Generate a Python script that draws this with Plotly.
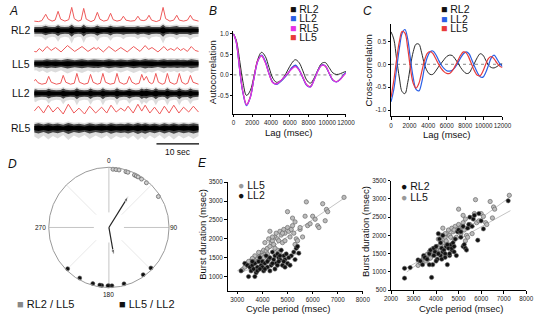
import plotly.graph_objects as go

W, H = 542, 317
FONT = "Liberation Sans, Arial, sans-serif"

# ---------------- Panel A : rectified/integrated envelopes (red) -------------
a_channels = ["RL2", "LL5", "LL2", "RL5"]
rl2_t = [0, 1.0, 1.8, 2.7, 3.3, 4.2, 4.9, 5.6, 6.2, 7.2, 8.1, 8.8, 9.4, 10.3, 11.0, 11.6,
         12.2, 13.3, 14.1, 14.8, 15.4, 16.3, 17.2, 17.9, 18.5, 19.4, 20.3, 20.9, 21.5, 22.6,
         23.6, 24.3, 24.9, 25.7, 26.3, 26.9, 27.5, 28.6, 29.5, 30.2, 30.8, 31.8, 32.7, 33.4,
         34.0, 35.0, 35.9, 36.6, 37.2, 38.5]
rl2_env = [1, 0.5, 1.5, 8, 3, 1, 2, 11, 3, 1, 2.5, 15, 3.5, 1, 2, 14, 3, 0.5, 2, 10, 3, 1, 2, 9,
           2.5, 1, 2, 6, 2, 1, 1.5, 6, 2, 1.5, 2.5, 7, 2, 0.5, 2, 15, 3.5, 1, 2, 7, 2, 1, 2, 7, 2.5, 1]
ll5_t = [0, 0.5, 1.2, 2.0, 3.0, 4.0, 5.0, 6.3, 7.8, 9.5, 11.2, 12.6, 14.0, 14.5, 15.0, 16.2,
         17.5, 19.0, 20.3, 21.8, 23.3, 24.8, 26.0, 26.8, 27.6, 29.0, 30.4, 31.2, 32.0, 32.8,
         33.5, 34.3, 35.0, 35.9, 36.8, 37.7, 38.5]
ll5_env = [2, 1.5, 5, 2, 7, 3, 6, 1.5, 8, 2, 7, 2, 6, 4, 6, 1.5, 7, 2, 6, 1.5, 7, 2, 8, 4, 6,
           1.5, 7, 3, 5, 3, 6, 3, 5, 2, 7, 3, 2]
ll2_t = [0, 0.3, 0.9, 1.8, 2.8, 3.4, 4.0, 5.2, 6.2, 6.8, 7.4, 8.5, 9.4, 10.0, 10.6, 11.7, 12.6,
         13.2, 13.8, 14.8, 15.5, 16.1, 16.7, 17.8, 18.8, 19.4, 20.0, 21.0, 21.7, 22.3, 22.9,
         23.8, 24.6, 25.2, 25.7, 26.3, 26.9, 27.5, 27.9, 28.5, 29.1, 30.0, 30.6, 31.2, 31.8,
         32.8, 33.4, 34.0, 34.6, 35.4, 36.0, 36.6, 37.2, 38.5]
ll2_env = [4, 6, 2.5, 1, 2, 9, 3, 1, 2, 10, 3, 1, 2, 12, 3, 1, 2, 11, 3, 1, 2, 12, 3, 1, 2, 12,
           3, 1, 2, 9, 3, 1, 2, 11, 5, 9, 3, 1.5, 2.5, 12, 3, 1, 2, 12, 3, 1, 2, 12, 3, 1, 2, 10, 3, 1]
rl5_t = [0, 1.0, 2.2, 3.3, 4.4, 5.5, 6.8, 8.0, 9.3, 10.5, 11.8, 13.0, 14.4, 15.8, 17.0, 18.0,
         19.2, 20.3, 21.2, 22.0, 23.2, 24.3, 25.2, 26.0, 27.1, 28.2, 29.4, 30.5, 31.6, 32.7,
         33.9, 35.0, 36.2, 37.3, 38.5]
rl5_env = [5, 10, 3, 11, 4, 9, 2, 12, 3, 8, 2, 10, 3, 9, 3, 11, 4, 8, 5, 10, 3, 12, 5, 11, 3,
           9, 2, 10, 3, 11, 3, 9, 4, 10, 4]
scale_bar_sec = 10

# ---------------- Panel B : autocorrelation ---------------------------------
b_lag = [0, 300, 700, 1000, 1400, 1800, 2200, 2600, 3000, 3400, 3800, 4200, 4600, 5000, 5400,
         5800, 6200, 6600, 7000, 7400, 7800, 8200, 8600, 9000, 9400, 9800, 10200, 10600,
         11000, 11400, 11800, 12000]
b_rl2 = [1.0, 0.85, 0.3, -0.15, -0.5, -0.38, -0.02, 0.38, 0.55, 0.45, 0.18, -0.08, -0.18,
         -0.14, -0.04, 0.12, 0.28, 0.37, 0.3, 0.1, -0.12, -0.2, -0.08, 0.12, 0.28, 0.3, 0.18,
         0.05, 0.01, 0.03, 0.07, 0.08]
b_ll2 = [1.0, 0.8, 0.05, -0.42, -0.75, -0.55, -0.08, 0.33, 0.48, 0.33, 0.03, -0.18, -0.23,
         -0.17, -0.08, 0.03, 0.17, 0.24, 0.13, -0.07, -0.25, -0.29, -0.12, 0.1, 0.24, 0.22,
         0.04, -0.13, -0.17, -0.1, 0.02, 0.06]
b_rl5 = [1.0, 0.8, 0.06, -0.4, -0.73, -0.55, -0.07, 0.34, 0.47, 0.3, 0.02, -0.19, -0.22,
         -0.15, -0.06, 0.04, 0.14, 0.2, 0.12, -0.06, -0.24, -0.3, -0.13, 0.09, 0.23, 0.22,
         0.05, -0.12, -0.17, -0.11, 0.0, 0.04]
b_ll5 = [1.0, 0.82, 0.08, -0.4, -0.72, -0.53, -0.06, 0.35, 0.46, 0.31, 0.03, -0.18, -0.22,
         -0.16, -0.07, 0.03, 0.16, 0.22, 0.12, -0.06, -0.24, -0.28, -0.11, 0.1, 0.24, 0.21,
         0.04, -0.12, -0.16, -0.1, 0.01, 0.05]

# ---------------- Panel C : cross-correlation -------------------------------
c_lag = [0, 300, 600, 900, 1200, 1500, 1800, 2100, 2400, 2700, 3000, 3300, 3600, 3900, 4200,
         4500, 4800, 5100, 5400, 5700, 6000, 6300, 6600, 6900, 7200, 7500, 7800, 8100, 8400,
         8700, 9000, 9300, 9600, 9900, 10200, 10500, 10800, 11100, 11400, 11700, 12000]
c_rl2 = [0.71, 0.55, 0.12, -0.3, -0.6, -0.64, -0.4, -0.03, 0.28, 0.44, 0.44, 0.25, 0.0, -0.15,
         -0.22, -0.22, -0.15, -0.06, 0.02, 0.1, 0.17, 0.2, 0.19, 0.12, 0.03, -0.07, -0.15,
         -0.2, -0.19, -0.09, 0.03, 0.15, 0.23, 0.2, 0.09, -0.02, -0.07, -0.08, -0.05, -0.01, 0.01]
c_ll2 = [-0.82, -0.55, -0.1, 0.35, 0.68, 0.76, 0.55, 0.1, -0.3, -0.55, -0.58, -0.4, -0.08,
         0.15, 0.27, 0.29, 0.22, 0.1, -0.01, -0.09, -0.14, -0.15, -0.13, -0.07, 0.03, 0.14,
         0.23, 0.27, 0.23, 0.1, -0.05, -0.18, -0.27, -0.28, -0.18, -0.02, 0.14, 0.2, 0.12,
         0.02, -0.05]
c_ll5 = [-0.72, -0.35, 0.1, 0.5, 0.72, 0.68, 0.35, -0.1, -0.42, -0.52, -0.42, -0.17, 0.08,
         0.24, 0.28, 0.24, 0.13, 0.01, -0.09, -0.16, -0.2, -0.2, -0.14, -0.04, 0.08, 0.2,
         0.27, 0.25, 0.14, -0.01, -0.15, -0.24, -0.25, -0.15, 0.0, 0.13, 0.17, 0.12, 0.03,
         -0.04, -0.07]
lag_ticks = list(range(0, 12001, 2000))

# ---------------- Panel D : phase (degrees) ---------------------------------
d_rl2_ll5_phase = [4, 7, 10, 17, 19, 26, 28, 30, 34, 40, 58]
d_rl2_ll5_mean = (32, 0.61)      # (angle, vector length)
d_ll5_ll2_phase = [134, 144, 165, 177, 180, 181, 187, 189, 196, 210, 225]
d_ll5_ll2_mean = (170, 0.47)
d_ticks = ["0", "90", "180", "270"]

# ---------------- Panel E : burst duration vs cycle period ------------------
e_ll5_period = [3200, 3400, 3500, 3550, 3600, 3650, 3700, 3750, 3800, 3650, 3550, 3900, 3950,
                4000, 4050, 4100, 4150, 4200, 4250, 4300, 4350, 4400, 4450, 4500, 4550, 4600,
                4650, 4700, 4750, 4800, 4850, 4900, 5000, 5000, 5050, 5100, 5150, 5200, 5250,
                5300, 5350, 5400, 5500, 5600, 5700, 5750, 5800, 5900, 6000, 6100, 6200, 6400,
                6500, 6550, 6600, 7250, 4300, 4400, 4100, 3850, 3950, 4000, 4200, 4600, 4700,
                4900, 5200, 5500, 4500, 3450, 3300, 4050, 3700, 4800, 5300, 6250, 3600, 3750]
e_ll5_burst = [1180, 1330, 1380, 1420, 1450, 1400, 1480, 1430, 1500, 1350, 1300, 1550, 1620,
               1650, 1700, 1600, 1680, 1750, 2000, 1800, 1900, 1950, 1850, 2050, 2150, 2000,
               1950, 2200, 2100, 1900, 2250, 2150, 2300, 2720, 2200, 2050, 2250, 2350, 2150,
               2450, 2000, 1950, 2250, 2050, 2600, 2980, 2350, 2400, 2600, 2520, 2350, 2930,
               2480, 2780, 2720, 3100, 2200, 2050, 1900, 1640, 1480, 1550, 1600, 1700, 1650,
               1950, 2550, 2300, 1750, 1400, 1250, 1500, 1550, 2150, 1850, 2300, 1480, 1380]
e_ll2_period = [3150, 3300, 3400, 3450, 3500, 3550, 3600, 3650, 3700, 3750, 3800, 3850, 3900,
                3950, 4000, 4050, 4100, 4150, 4200, 4250, 4300, 4350, 4400, 4450, 4500, 4550,
                4600, 4650, 4700, 4750, 4800, 4850, 4900, 4950, 5000, 5100, 5150, 5250, 5350,
                5400, 5450, 4500, 4300, 3800, 4000, 4600, 5050, 4200, 3600, 4400, 4700, 4900,
                5300, 3700, 4100, 3900, 4650, 4850]
e_ll2_burst = [1150, 1350, 1300, 1000, 1250, 1150, 1300, 1200, 1350, 1100, 1250, 1400, 1500,
               1300, 1400, 1150, 1350, 1550, 1250, 1450, 1500, 1300, 1650, 1450, 1550, 1350,
               1600, 1500, 1450, 1700, 1300, 1550, 1450, 1600, 1350, 1300, 1550, 1650, 1750,
               1800, 1620, 1200, 1150, 1150, 1250, 1300, 1500, 1400, 1400, 1350, 1550, 1250,
               1450, 1000, 1200, 1200, 1400, 1400]
e_rl2_period = [2600, 2600, 2850, 3200, 3300, 3400, 3450, 3500, 3600, 3700, 3750, 3800, 3850,
                3900, 3950, 4000, 4050, 4100, 4150, 4200, 4250, 4300, 4350, 4400, 4450, 4500,
                4550, 4600, 4650, 4700, 4750, 4800, 4850, 4900, 4950, 5000, 5100, 5200, 5250,
                5300, 5350, 5400, 5450, 5500, 5600, 5650, 5700, 5850, 5900, 6000, 6100, 7200,
                4200, 4400, 4700, 3900, 4100, 4250, 4600, 4300, 4500, 5100, 5200, 4000, 3700, 4800]
e_rl2_burst = [830, 1100, 1120, 1330, 1300, 1200, 1450, 1400, 1350, 1500, 1600, 850, 1200,
               1650, 1550, 1700, 1350, 2050, 1900, 1800, 1650, 1550, 1600, 1500, 1700, 1200,
               1650, 1450, 1750, 1600, 1800, 1550, 1900, 1450, 2100, 2150, 1950, 1700, 1750,
               1650, 1600, 2200, 2300, 2500, 2250, 2450, 2550, 1870, 2600, 2400, 2180, 2950,
               1450, 1400, 1650, 1450, 1500, 1350, 1500, 2000, 1750, 2100, 2250, 1300, 1200, 1700]
e_fit_ll5_left = ([3000, 7300], [1150, 3100])
e_fit_ll2_left = ([3200, 5500], [1130, 1620])
e_fit_ll5_right = ([2700, 7300], [1000, 3060])
e_fit_rl2_right = ([2600, 7300], [1080, 2680])

# ============================ figure ========================================
BLUE, MAG, RED, BLK = "#2a5fe6", "#e632e6", "#e83a3a", "#111111"
TRACE_RED = "#ee5a5a"

fig = go.Figure()


def pxx(px):
    return px / W


def pxy(py):
    return 1 - py / H


# ---- Panel A ----
red_base = {"RL2": 18.5, "LL5": 50.5, "LL2": 83, "RL5": 114.5}
blk_center = {"RL2": 27, "LL5": 61, "LL2": 91.5, "RL5": 127}
a_data = {"RL2": (rl2_t, rl2_env), "LL5": (ll5_t, ll5_env),
          "LL2": (ll2_t, ll2_env), "RL5": (rl5_t, rl5_env)}
for ch in a_channels:
    t, env = a_data[ch]
    c = blk_center[ch]
    # faint gray fuzz (downward spikes)
    up = [-(c - 5 - 0.15 * v) for v in env]
    lo = [-(c + 6 + 0.5 * v) for v in env]
    fig.add_trace(go.Scatter(x=t + t[::-1], y=up + lo[::-1], fill="toself", mode="lines",
                             line=dict(width=0), fillcolor="rgba(140,140,140,0.3)",
                             xaxis="x", yaxis="y", hoverinfo="skip"))
    up = [-(c - 3.2 - 0.18 * v) for v in env]
    lo = [-(c + 3.2 + 0.22 * v) for v in env]
    fig.add_trace(go.Scatter(x=t + t[::-1], y=up + lo[::-1], fill="toself", mode="lines",
                             line=dict(width=0), fillcolor="rgba(30,30,30,0.8)",
                             xaxis="x", yaxis="y", hoverinfo="skip"))
    up = [-(c - 1.6 - 0.12 * v) for v in env]
    lo = [-(c + 1.6 + 0.12 * v) for v in env]
    fig.add_trace(go.Scatter(x=t + t[::-1], y=up + lo[::-1], fill="toself", mode="lines",
                             line=dict(width=0), fillcolor="#000",
                             xaxis="x", yaxis="y", hoverinfo="skip"))
    fig.add_trace(go.Scatter(x=t, y=[-(red_base[ch] - v) for v in env], mode="lines",
                             line=dict(color=TRACE_RED, width=1), xaxis="x", yaxis="y"))

bar_end = 38.65
fig.add_trace(go.Scatter(x=[bar_end - scale_bar_sec, bar_end], y=[-143, -143], mode="lines",
                         line=dict(color="#000", width=1.2), xaxis="x", yaxis="y"))

# ---- Panel B ----
fig.add_trace(go.Scatter(x=[0, 12000], y=[0, 0], mode="lines",
                         line=dict(color="#888", width=1, dash="dot"), xaxis="x2", yaxis="y2"))
for ys, col, w in [(b_rl2, BLK, 0.9), (b_ll5, RED, 1.2), (b_ll2, BLUE, 1.2), (b_rl5, MAG, 1.2)]:
    fig.add_trace(go.Scatter(x=b_lag, y=ys, mode="lines", line=dict(color=col, width=w, shape="spline"),
                             xaxis="x2", yaxis="y2"))

# ---- Panel C ----
fig.add_trace(go.Scatter(x=[0, 12000], y=[0, 0], mode="lines",
                         line=dict(color="#888", width=1, dash="dot"), xaxis="x3", yaxis="y3"))
for ys, col, w in [(c_rl2, BLK, 0.9), (c_ll2, BLUE, 1.2), (c_ll5, RED, 1.2)]:
    fig.add_trace(go.Scatter(x=c_lag, y=ys, mode="lines", line=dict(color=col, width=w, shape="spline"),
                             xaxis="x3", yaxis="y3"))

# ---- Panel D (polar) ----
for ang in [45, 135, 225, 315]:
    fig.add_trace(go.Scatterpolar(r=[0.3, 1.0], theta=[ang, ang], mode="lines",
                                  line=dict(color="#e8e8e8", width=1), subplot="polar"))
for ang in [0, 90, 180, 270]:
    fig.add_trace(go.Scatterpolar(r=[0.25, 1.0], theta=[ang, ang], mode="lines",
                                  line=dict(color="#c4c4c4", width=1), subplot="polar"))
fig.add_trace(go.Scatterpolar(r=[0.97] * len(d_rl2_ll5_phase), theta=d_rl2_ll5_phase,
                              mode="markers", subplot="polar",
                              marker=dict(size=4, color="#cfcfcf", line=dict(color="#666", width=0.8))))
fig.add_trace(go.Scatterpolar(r=[0.97] * len(d_ll5_ll2_phase), theta=d_ll5_ll2_phase,
                              mode="markers", subplot="polar",
                              marker=dict(size=4, color="#111", line=dict(color="#555", width=0.6))))
for (ang, ln) in [d_rl2_ll5_mean, d_ll5_ll2_mean]:
    fig.add_trace(go.Scatterpolar(r=[0, ln], theta=[ang, ang], mode="lines+markers",
                                  subplot="polar", line=dict(color="#222", width=1.2),
                                  marker=dict(symbol="arrow", size=[0, 6], color="#222",
                                              angleref="previous")))

# ---- Panel E ----
GRAY_M = dict(size=4.3, color="#bcbcbc", line=dict(color="#6a6a6a", width=0.7))
BLK_M = dict(size=4.3, color="#111", line=dict(color="#666", width=0.6))
for (xs, ys), ax in [(e_fit_ll5_left, 4), (e_fit_ll2_left, 4), (e_fit_ll5_right, 5), (e_fit_rl2_right, 5)]:
    fig.add_trace(go.Scatter(x=xs, y=ys, mode="lines", line=dict(color="#c4c4c4", width=1),
                             xaxis=f"x{ax}", yaxis=f"y{ax}"))
fig.add_trace(go.Scatter(x=e_ll5_period, y=e_ll5_burst, mode="markers", marker=GRAY_M,
                         xaxis="x4", yaxis="y4"))
fig.add_trace(go.Scatter(x=e_ll2_period, y=e_ll2_burst, mode="markers", marker=BLK_M,
                         xaxis="x4", yaxis="y4"))
fig.add_trace(go.Scatter(x=e_ll5_period, y=e_ll5_burst, mode="markers", marker=GRAY_M,
                         xaxis="x5", yaxis="y5"))
fig.add_trace(go.Scatter(x=e_rl2_period, y=e_rl2_burst, mode="markers", marker=BLK_M,
                         xaxis="x5", yaxis="y5"))

# ---- axes ----
TICKF = dict(family=FONT, size=6.3, color="#222")


def axstyle(**kw):
    d = dict(showline=True, linecolor="#000", linewidth=1, ticks="outside", ticklen=2.5,
             tickwidth=1, tickcolor="#000", tickfont=TICKF, showgrid=False, zeroline=False,
             fixedrange=True, tickangle=0)
    d.update(kw)
    return d


def ticks(vals, fmt="{:d}"):
    return dict(tickvals=vals, ticktext=[fmt.format(v) for v in vals])


layout = dict(
    width=W, height=H, margin=dict(l=0, r=0, t=0, b=0), showlegend=False,
    paper_bgcolor="white", plot_bgcolor="rgba(0,0,0,0)", font=dict(family=FONT, color="#111"),
    xaxis=dict(domain=[pxx(28), pxx(198)], range=[0, bar_end], visible=False),
    yaxis=dict(domain=[0, 1], range=[-H, 0], visible=False),
    xaxis2=axstyle(domain=[pxx(233.3), pxx(349.3)], range=[0, 12000], anchor="y2", **ticks(lag_ticks)),
    yaxis2=axstyle(domain=[pxy(112), pxy(28)], range=[-0.94, 1.06], anchor="x2",
                   **ticks([-0.5, 0.0, 0.5, 1.0], "{:.1f}")),
    xaxis3=axstyle(domain=[pxx(395.7), pxx(510.5)], range=[0, 12000], anchor="y3", **ticks(lag_ticks)),
    yaxis3=axstyle(domain=[pxy(115), pxy(20)], range=[-1.14, 0.89], anchor="x3",
                   **ticks([-1.0, -0.5, 0.0, 0.5], "{:.1f}")),
    xaxis4=axstyle(domain=[pxx(227.3), pxx(366.7)], range=[2615, 8000], anchor="y4",
                   **ticks(list(range(3000, 8001, 1000)))),
    yaxis4=axstyle(domain=[pxy(293.3), pxy(182.3)], range=[622, 3500], anchor="x4",
                   **ticks(list(range(1000, 3501, 500)))),
    xaxis5=axstyle(domain=[pxx(395.7), pxx(535)], range=[2000, 8000], anchor="y5",
                   **ticks(list(range(2000, 8001, 1000)))),
    yaxis5=axstyle(domain=[pxy(292.7), pxy(180.7)], range=[500, 3500], anchor="x5",
                   **ticks(list(range(500, 3501, 500)))),
    polar=dict(domain=dict(x=[pxx(43), pxx(167)], y=[pxy(290.5), pxy(166.5)]),
               bgcolor="rgba(0,0,0,0)",
               angularaxis=dict(rotation=90, direction="clockwise", showgrid=False,
                                showticklabels=False, ticks="", linecolor="#9a9a9a", linewidth=1),
               radialaxis=dict(range=[0, 1], visible=False)),
)
fig.update_layout(**layout)


def ann(text, px, py, size=10, xanchor="center", yanchor="middle", angle=0, color="#111"):
    fig.add_annotation(text=text, x=pxx(px), y=pxy(py), xref="paper", yref="paper",
                       showarrow=False, xanchor=xanchor, yanchor=yanchor, textangle=angle,
                       font=dict(family=FONT, size=size, color=color))


# panel letters
for letter, x, y in [("A", 7, 7), ("B", 212, 7), ("C", 371, 7), ("D", 6, 164), ("E", 201, 163)]:
    ann(f"<i>{letter}</i>", x, y, size=12)

# panel A labels
for ch in a_channels:
    ann(ch, 14, blk_center[ch], size=10.5)
ann("10 sec", 176, 151, size=8.5)

# panel B
ann("Autocorrelation", 212, 70, size=9.5, angle=-90)
ann("Lag (msec)", 291, 131, size=9.5)
for i, (name, col) in enumerate([("RL2", BLK), ("LL2", BLUE), ("RL5", MAG), ("LL5", RED)]):
    ann(f"<span style='color:{col}'>■</span> {name}", 290, 5 + 9.6 * i, size=10.5, xanchor="left")

# panel C
ann("Cross-correlation", 373, 68, size=9.5, angle=-90)
ann("Lag (msec)", 453, 133, size=9.5)
for i, (name, col) in enumerate([("RL2", BLK), ("LL2", BLUE), ("LL5", RED)]):
    ann(f"<span style='color:{col}'>■</span> {name}", 445, 5 + 10 * i, size=10.5, xanchor="left")

# panel D
ann(d_ticks[0], 105, 160, size=6.5)
ann(d_ticks[1], 172, 229, size=6.5)
ann(d_ticks[2], 105, 297, size=6.5)
ann(d_ticks[3], 35, 229, size=6.5)
ann("<span style='color:#888'>■</span> RL2 / LL5", 8, 307, size=11, xanchor="left")
ann("<span style='color:#111'>■</span> LL5 / LL2", 113, 307, size=11, xanchor="left")

# panel E
ann("Burst duration (msec)", 202, 236, size=9.5, angle=-90)
ann("Cycle period (msec)", 290, 311, size=9.5)
ann("<span style='color:#999'>●</span> LL5", 236, 185, size=10.5, xanchor="left")
ann("<span style='color:#111'>●</span> LL2", 236, 195.5, size=10.5, xanchor="left")
ann("Burst duration (msec)", 370, 233, size=9.5, angle=-90)
ann("Cycle period (msec)", 468, 311, size=9.5)
ann("<span style='color:#111'>●</span> RL2", 404, 186, size=10.5, xanchor="left")
ann("<span style='color:#999'>●</span> LL5", 404, 197.5, size=10.5, xanchor="left")

fig.write_html("out.html", config={"displayModeBar": False},
               post_script="document.body.style.margin='0';document.body.style.overflow='hidden';")
